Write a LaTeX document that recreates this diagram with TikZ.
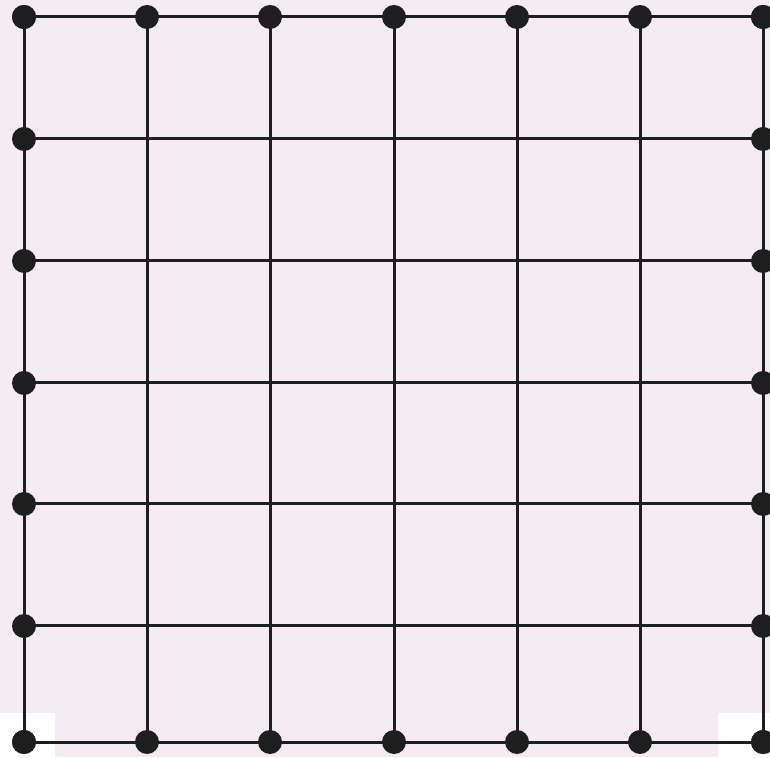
\documentclass[tikz,border=0pt]{standalone}
\definecolor{bgpink}{RGB}{245,235,243}
\definecolor{ink}{RGB}{30,30,30}
\begin{document}
\begin{tikzpicture}[x=1pt,y=1pt,
  dot/.style={circle,fill=ink,inner sep=0pt,minimum size=24pt},
  edge/.style={draw=ink,line width=3pt}]
\fill[bgpink] (0,0) rectangle (770,757);
\useasboundingbox (0,0) rectangle (770,757);
\fill[white] (0,0) rectangle (55,44);
\fill[white] (718,0) rectangle (770,44);
\foreach \x [count=\i] in {24,147,270,394,517,640,763}{
  \foreach \y [count=\j] in {17,139,261,383,504,626,742}{
    \coordinate (c-\i-\j) at (\x,757-\y);
  }
}
% connectors
\foreach \i in {1,...,7}{
  \foreach \j [evaluate=\j as \k using int(\j+1)] in {1,...,6}{
    \draw[edge] (c-\i-\j) -- (c-\i-\k);
    \draw[edge] (c-\j-\i) -- (c-\k-\i);
  }
}
% boundary dots only
\foreach \i in {1,...,7}{
  \node[dot] (t-\i) at (c-\i-1) {};
  \node[dot] (b-\i) at (c-\i-7) {};
  \node[dot] (l-\i) at (c-1-\i) {};
  \node[dot] (r-\i) at (c-7-\i) {};
}
\end{tikzpicture}
\end{document}
